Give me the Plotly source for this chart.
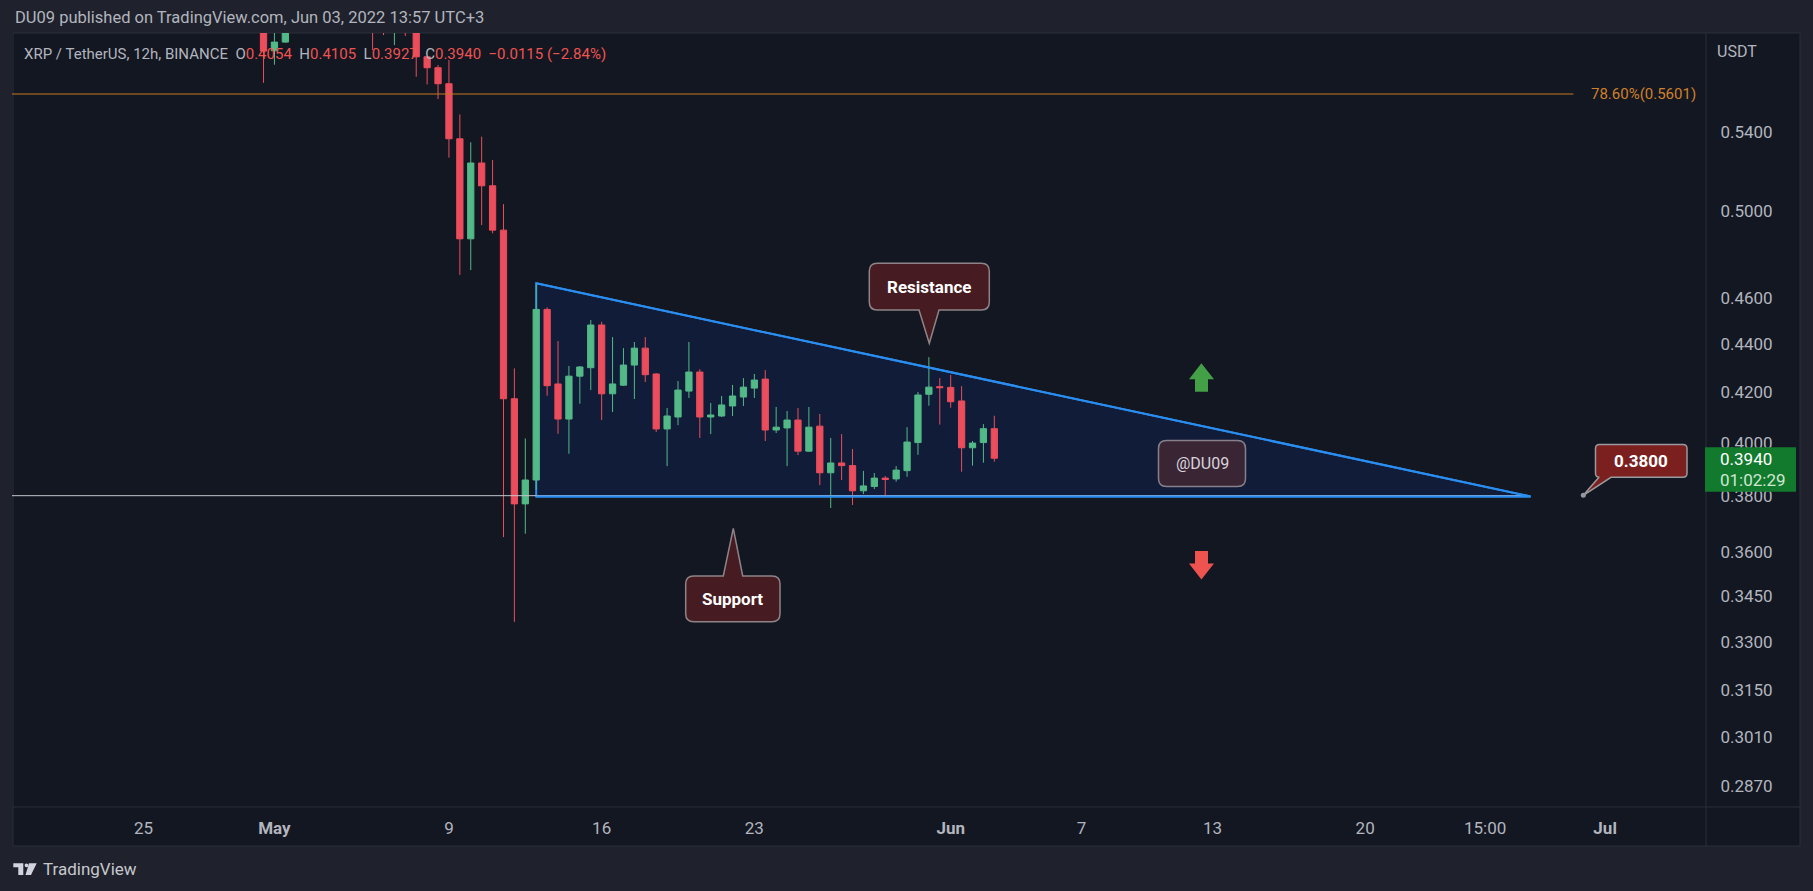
import math
import pandas as pd
import plotly.graph_objects as go

# ---------------- data (12h candles, XRP/USDT Binance) ----------------
dates = pd.date_range("2022-04-30 15:00", "2022-06-03 03:00", freq="12h")

opens = [0.6120, 0.5840, 0.5889, 0.5990, 0.6080, 0.6040, 0.6020, 0.6050, 0.6190, 0.6400,
         0.6170, 0.6010, 0.5960, 0.6040, 0.5990, 0.5806, 0.5745, 0.5657, 0.5364, 0.4870,
         0.5240, 0.5126, 0.4911, 0.4173, 0.3770, 0.3858, 0.4549, 0.4233, 0.4092, 0.4265,
         0.4300, 0.4481, 0.4193, 0.4228, 0.4311, 0.4382, 0.4274, 0.4053, 0.4100, 0.4204,
         0.4282, 0.4100, 0.4104, 0.4144, 0.4180, 0.4216, 0.4253, 0.4049, 0.4057, 0.4088,
         0.3967, 0.4064, 0.3885, 0.3922, 0.3912, 0.3818, 0.3834, 0.3865, 0.3862, 0.3893,
         0.4000, 0.4191, 0.4222, 0.4219, 0.4164, 0.3980, 0.4000, 0.4054]
highs = [0.6150, 0.5975, 0.6030, 0.6120, 0.6150, 0.6110, 0.6090, 0.6230, 0.6460, 0.6470,
         0.6200, 0.6060, 0.6080, 0.6070, 0.6010, 0.5810, 0.5760, 0.5788, 0.5492, 0.5346,
         0.5375, 0.5255, 0.5036, 0.4297, 0.4016, 0.4665, 0.4558, 0.4412, 0.4307, 0.4307,
         0.4503, 0.4495, 0.4429, 0.4382, 0.4408, 0.4429, 0.4278, 0.4136, 0.4245, 0.4408,
         0.4294, 0.4156, 0.4184, 0.4229, 0.4257, 0.4274, 0.4290, 0.4140, 0.4124, 0.4136,
         0.4140, 0.4112, 0.4018, 0.4033, 0.3975, 0.3892, 0.3884, 0.3873, 0.3910, 0.4060,
         0.4200, 0.4344, 0.4257, 0.4270, 0.4224, 0.4006, 0.4072, 0.4105]
lows = [0.5662, 0.5762, 0.5885, 0.5960, 0.6010, 0.5990, 0.5970, 0.6030, 0.6150, 0.6130,
        0.5844, 0.5929, 0.5872, 0.5924, 0.5695, 0.5653, 0.5574, 0.5267, 0.4703, 0.4725,
        0.4935, 0.4896, 0.3651, 0.3364, 0.3663, 0.3821, 0.4185, 0.4034, 0.3957, 0.4153,
        0.4208, 0.4088, 0.4120, 0.4225, 0.4172, 0.4241, 0.4041, 0.3910, 0.4068, 0.4176,
        0.4018, 0.4033, 0.4100, 0.4104, 0.4144, 0.4176, 0.4006, 0.4037, 0.3910, 0.3952,
        0.3964, 0.3839, 0.3755, 0.3858, 0.3766, 0.3806, 0.3824, 0.3796, 0.3852, 0.3870,
        0.3953, 0.4145, 0.4070, 0.4137, 0.3889, 0.3912, 0.3923, 0.3927]
closes = [0.5838, 0.5889, 0.5990, 0.6080, 0.6040, 0.6020, 0.6050, 0.6190, 0.6400, 0.6170,
          0.5990, 0.5960, 0.6040, 0.5990, 0.5806, 0.5745, 0.5657, 0.5364, 0.4870, 0.5240,
          0.5126, 0.4911, 0.4173, 0.3770, 0.3858, 0.4549, 0.4226, 0.4092, 0.4265, 0.4303,
          0.4481, 0.4193, 0.4233, 0.4311, 0.4382, 0.4271, 0.4053, 0.4104, 0.4208, 0.4282,
          0.4100, 0.4108, 0.4148, 0.4184, 0.4220, 0.4249, 0.4049, 0.4060, 0.4088, 0.3967,
          0.4060, 0.3885, 0.3922, 0.3912, 0.3818, 0.3836, 0.3865, 0.3860, 0.3895, 0.4002,
          0.4188, 0.4220, 0.4218, 0.4161, 0.3980, 0.3998, 0.4054, 0.3940]

# drawings
triangle_x = ["2022-05-13 03:00", "2022-06-27 17:00", "2022-05-13 03:00"]
triangle_y = [0.4665, 0.3797, 0.3797]
support_level = 0.3800
support_line_x = ["2022-04-18 00:00", "2022-06-27 12:00"]
fib_level = 0.5601
fib_line_x = ["2022-04-18 00:00", "2022-06-29 16:00"]

# axes
y_tick_vals = [0.54, 0.50, 0.46, 0.44, 0.42, 0.40, 0.38, 0.36, 0.345, 0.33, 0.315, 0.301, 0.287]
y_tick_text = ["0.5400", "0.5000", "0.4600", "0.4400", "0.4200", "0.4000", "0.3800",
               "0.3600", "0.3450", "0.3300", "0.3150", "0.3010", "0.2870"]
x_tick_vals = ["2022-04-25 03:00", "2022-05-01 03:00", "2022-05-09 03:00", "2022-05-16 03:00",
               "2022-05-23 03:00", "2022-06-01 03:00", "2022-06-07 03:00", "2022-06-13 03:00",
               "2022-06-20 03:00", "2022-06-25 15:00", "2022-07-01 03:00"]
x_tick_text = ["25", "<b>May</b>", "9", "16", "23", "<b>Jun</b>", "7", "13", "20", "15:00", "<b>Jul</b>"]

# ---------------- layout geometry ----------------
W_FIG, H_FIG = 1813, 891
ML, MR, MT, MB = 12, 107, 33, 84
PW, PH = W_FIG - ML - MR, H_FIG - MT - MB

def PX(x):
    return (x - ML) / PW

def PY(y):
    return (MT + PH - y) / PH

FONT = "Roboto, 'Liberation Sans', sans-serif"
UP, DOWN = "#53b987", "#eb4d5c"
TXT = "#b2b5be"
TRI = "#2a8df0"

fig = go.Figure()

fig.add_trace(go.Scatter(x=support_line_x, y=[support_level, support_level], mode="lines",
                         line=dict(color="#c3c5cc", width=1), hoverinfo="skip", showlegend=False))
fig.add_trace(go.Scatter(x=fib_line_x, y=[fib_level, fib_level], mode="lines",
                         line=dict(color="#c47a1d", width=1.2), hoverinfo="skip", showlegend=False))
fig.add_trace(go.Candlestick(x=dates, open=opens, high=highs, low=lows, close=closes,
                             increasing=dict(line=dict(color=UP, width=1), fillcolor=UP),
                             decreasing=dict(line=dict(color=DOWN, width=1), fillcolor=DOWN),
                             whiskerwidth=0, showlegend=False, hoverinfo="skip"))
# sloping resistance edge and flat support edge drawn over the candles
fig.add_trace(go.Scatter(x=triangle_x, y=triangle_y,
                         mode="lines", line=dict(color=TRI, width=2),
                         hoverinfo="skip", showlegend=False))

shapes = []
# triangle fill (with its left edge), in data coordinates, under the candles
tri_path = "M" + " L".join(f"{x.replace(' ', '_')},{y}" for x, y in zip(triangle_x, triangle_y)) + " Z"
shapes.append(dict(type="path", xref="x", yref="y", layer="below", path=tri_path,
                   fillcolor="#111d38", line=dict(color=TRI, width=2)))
# chart pane background & borders
shapes.append(dict(type="rect", xref="paper", yref="paper", layer="below",
                   x0=PX(13), x1=PX(1800), y0=PY(846), y1=PY(33),
                   fillcolor="#131722", line=dict(color="#2a2e39", width=1)))
shapes.append(dict(type="line", xref="paper", yref="paper", layer="above",
                   x0=PX(1706), x1=PX(1706), y0=PY(846), y1=PY(33),
                   line=dict(color="#2a2e39", width=1)))
shapes.append(dict(type="line", xref="paper", yref="paper", layer="above",
                   x0=PX(13), x1=PX(1800), y0=PY(807), y1=PY(807),
                   line=dict(color="#2a2e39", width=1)))


def pt(x, y):
    return f"{PX(x):.6f},{PY(y):.6f}"


def callout_path(x0, y0, x1, y1, r, pointer=None, side=None):
    p = [f"M{pt(x0 + r, y0)}"]
    if side == "top":
        b0, tip, b1 = pointer
        p += [f"L{pt(b0, y0)}", f"L{pt(*tip)}", f"L{pt(b1, y0)}"]
    p += [f"L{pt(x1 - r, y0)}", f"Q{pt(x1, y0)} {pt(x1, y0 + r)}",
          f"L{pt(x1, y1 - r)}", f"Q{pt(x1, y1)} {pt(x1 - r, y1)}"]
    if side == "bottom":
        b1, tip, b0 = pointer
        p += [f"L{pt(b1, y1)}", f"L{pt(*tip)}", f"L{pt(b0, y1)}"]
    p += [f"L{pt(x0 + r, y1)}", f"Q{pt(x0, y1)} {pt(x0, y1 - r)}",
          f"L{pt(x0, y0 + r)}", f"Q{pt(x0, y0)} {pt(x0 + r, y0)}", "Z"]
    return " ".join(p)


# Resistance callout
shapes.append(dict(type="path", xref="paper", yref="paper", layer="above",
                   path=callout_path(869.3, 263.3, 989.3, 310, 8, (939, (929.3, 343.3), 919), "bottom"),
                   fillcolor="#461b21", line=dict(color="#8e8487", width=1.5)))
# Support callout
shapes.append(dict(type="path", xref="paper", yref="paper", layer="above",
                   path=callout_path(685.7, 576, 780, 621.7, 8, (723.3, (733.3, 528.3), 742.7), "top"),
                   fillcolor="#461b21", line=dict(color="#8e8487", width=1.5)))
# @DU09 box
shapes.append(dict(type="path", xref="paper", yref="paper", layer="above",
                   path=callout_path(1158.5, 440.5, 1245.5, 486.5, 8),
                   fillcolor="#3a2535", line=dict(color="#86808a", width=1.5)))
# 0.3800 callout
shapes.append(dict(type="path", xref="paper", yref="paper", layer="above",
                   path=callout_path(1595.5, 444.5, 1687, 477.3, 4, (1611, (1583.3, 495.3), 1599), "bottom"),
                   fillcolor="#7b1f1f", line=dict(color="#9a9a9e", width=1.5)))
shapes.append(dict(type="circle", xref="paper", yref="paper", layer="above",
                   x0=PX(1580.8), x1=PX(1585.8), y0=PY(497.8), y1=PY(492.8),
                   fillcolor="#9598a1", line=dict(width=0)))
# arrows
up_arrow = [(1201.4, 363.3), (1214, 379.3), (1208, 379.3), (1208, 391.7), (1195, 391.7),
            (1195, 379.3), (1189, 379.3)]
down_arrow = [(1201.4, 579.5), (1214, 563.5), (1208, 563.5), (1208, 551), (1195, 551),
              (1195, 563.5), (1189, 563.5)]
for pts_, col in ((up_arrow, "#43a047"), (down_arrow, "#ef5350")):
    shapes.append(dict(type="path", xref="paper", yref="paper", layer="above",
                       path="M" + " L".join(pt(a, b) for a, b in pts_) + " Z",
                       fillcolor=col, line=dict(width=0)))
# last price label box
shapes.append(dict(type="rect", xref="paper", yref="paper", layer="above",
                   x0=PX(1705), x1=PX(1796), y0=PY(491.7), y1=PY(447.3),
                   fillcolor="#127a2d", line=dict(width=0)))
# TradingView logo icon
logo = [
    "M" + " L".join(pt(a, b) for a, b in [(13.3, 863.3), (23.3, 863.3), (23.3, 875), (18.3, 875),
                                            (18.3, 867.3), (13.3, 867.3)]) + " Z",
    "M" + " L".join(pt(a, b) for a, b in [(29, 863.3), (36.7, 863.3), (31, 875), (25.5, 875)]) + " Z",
]
for pth in logo:
    shapes.append(dict(type="path", xref="paper", yref="paper", layer="above", path=pth,
                       fillcolor="#d1d4dc", line=dict(width=0)))
shapes.append(dict(type="circle", xref="paper", yref="paper", layer="above",
                   x0=PX(24.6), x1=PX(28.4), y0=PY(867.2), y1=PY(863.4),
                   fillcolor="#d1d4dc", line=dict(width=0)))

annotations = []


def ann(text, x, y, size, color, xanchor="center", family=FONT):
    annotations.append(dict(text=text, x=PX(x), y=PY(y), xref="paper", yref="paper",
                            xanchor=xanchor, yanchor="middle", showarrow=False,
                            font=dict(family=family, size=size, color=color)))


NB = "\u00a0"
ann("DU09 published on TradingView.com, Jun 03, 2022 13:57 UTC+3", 13, 18, 16.5, TXT, "left")
red = "#ef5350"
legend = (f"XRP / TetherUS, 12h, BINANCE{NB}{NB}"
          f"O<span style='color:{red}'>0.4054</span>{NB}{NB}"
          f"H<span style='color:{red}'>0.4105</span>{NB}{NB}"
          f"L<span style='color:{red}'>0.3927</span>{NB}{NB}"
          f"C<span style='color:{red}'>0.3940</span>{NB}{NB}"
          f"<span style='color:{red}'>\u22120.0115 (\u22122.84%)</span>")
ann(legend, 22, 54, 15, TXT, "left")
ann("USDT", 1715, 51.5, 16, TXT, "left")
ann("78.60%(0.5601)", 1589, 94, 15, "#d0802a", "left")
ann("<b>Resistance</b>", 929.3, 286.7, 17, "#ffffff")
ann("<b>Support</b>", 732.9, 598.9, 17, "#ffffff")
ann("@DU09", 1202, 463.5, 16, "#d8d4dc")
ann("<b>0.3800</b>", 1641.3, 461, 17, "#ffffff")
ann("0.3940", 1718, 459.5, 17, "#ffffff", "left")
ann("01:02:29", 1718, 479.5, 17, "#cfe8d3", "left")
ann("TradingView", 41, 869, 17, "#c7c8cc", "left")

fig.update_layout(
    width=W_FIG, height=H_FIG,
    margin=dict(l=ML, r=MR, t=MT, b=MB, pad=0),
    paper_bgcolor="#1f222c", plot_bgcolor="#131722",
    font=dict(family=FONT, color=TXT, size=17),
    showlegend=False, boxgap=0.18, hovermode=False,
    shapes=shapes, annotations=annotations,
    xaxis=dict(type="date", range=["2022-04-19 02:17", "2022-07-05 17:58"],
               tickvals=x_tick_vals, ticktext=x_tick_text, showgrid=False, zeroline=False,
               showline=False, ticks="outside", ticklen=6, tickcolor="rgba(0,0,0,0)",
               tickfont=dict(size=17, color=TXT), rangeslider=dict(visible=False),
               fixedrange=True),
    yaxis=dict(type="log", side="right",
               range=[math.log10(0.28132), math.log10(0.5941)],
               tickvals=y_tick_vals, ticktext=y_tick_text, showgrid=False, zeroline=False,
               showline=False, ticks="outside", ticklen=10, tickcolor="rgba(0,0,0,0)",
               tickfont=dict(size=17, color=TXT), fixedrange=True),
)

fig.write_html("out.html")
